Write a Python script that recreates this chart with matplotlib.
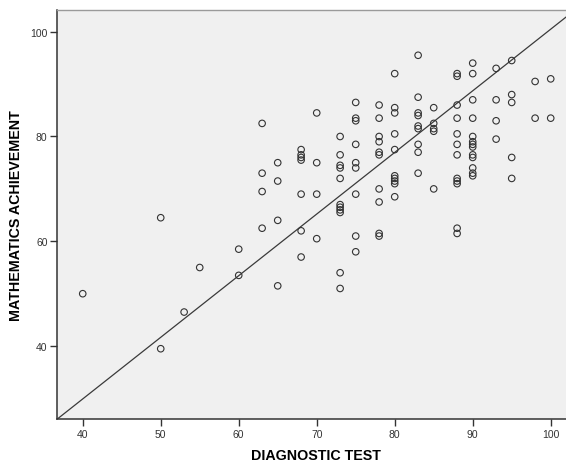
"""
Scatter of mathematics achievement against diagnostic test score,
with the fitted line drawn across the plot area.
"""
import matplotlib
matplotlib.use("Agg")
import matplotlib.pyplot as plt
import numpy as np

# scores (diagnostic test -> achievement)
COLUMNS = {
    40: [50],
    50: [64.5, 39.5],
    53: [46.5],
    55: [55],
    60: [58.5, 53.5],
    63: [82.5, 73, 69.5, 62.5],
    65: [75, 71.5, 64, 51.5],
    68: [77.5, 76.5, 76, 75.5, 69, 62, 57],
    70: [84.5, 75, 69, 60.5],
    73: [80, 76.5, 74.5, 74, 72, 67, 66.5, 66, 65.5, 54, 51],
    75: [86.5, 83.5, 83, 78.5, 75, 74, 69, 61, 58],
    78: [86, 83.5, 80, 79, 77, 76.5, 70, 67.5, 61.5, 61],
    80: [92, 85.5, 84.5, 80.5, 77.5, 72.5, 72, 71.5, 71, 68.5],
    83: [95.5, 87.5, 84.5, 84, 82, 81.5, 78.5, 77, 73],
    85: [85.5, 82.5, 81.5, 81, 70],
    88: [92, 91.5, 86, 83.5, 80.5, 78.5, 76.5, 72, 71.5, 71, 62.5, 61.5],
    90: [94, 92, 87, 83.5, 80, 79, 78.5, 78, 76.5, 76, 74, 73, 72.5],
    93: [93, 87, 83, 79.5],
    95: [94.5, 88, 86.5, 76, 72],
    98: [90.5, 83.5],
    100: [91, 83.5],
}
diag_test = [x for x, ys in COLUMNS.items() for _ in ys]
math_ach = [y for ys in COLUMNS.values() for y in ys]

# fit line
FIT_INTERCEPT = -17.12
FIT_SLOPE = 1.176

X_TICKS = [40, 50, 60, 70, 80, 90, 100]
Y_TICKS = [40, 60, 80, 100]
XLIM = (36.74, 101.96)
YLIM = (26.09, 104.14)

fig = plt.figure(figsize=(5.66, 4.64), dpi=100)
ax = fig.add_axes([57.3 / 566, 1 - 420 / 464, 1 - 57.3 / 566, 409 / 464])
ax.set_facecolor("#f0f0f0")

ax.scatter(diag_test, math_ach, s=22, facecolors="none", edgecolors="#333333",
           linewidths=0.8, zorder=3)

xs = np.array(XLIM)
ax.plot(xs, FIT_INTERCEPT + FIT_SLOPE * xs, color="#3a3a3a", lw=0.9, zorder=2)

ax.set_xlim(*XLIM)
ax.set_ylim(*YLIM)
ax.set_xticks(X_TICKS)
ax.set_yticks(Y_TICKS)
ax.tick_params(direction="out", length=5, width=1, color="#333333",
               labelsize=7.5, labelcolor="#333333", pad=2)

for side in ("left", "bottom"):
    ax.spines[side].set_color("#333333")
    ax.spines[side].set_linewidth(1.1)
ax.spines["top"].set_color("#9a9a9a")
ax.spines["top"].set_linewidth(1.0)
ax.spines["right"].set_visible(False)

ax.set_xlabel("DIAGNOSTIC TEST", fontsize=10.3, fontweight="bold",
              family="Liberation Sans")
ax.set_ylabel("MATHEMATICS ACHIEVEMENT", fontsize=10.3, fontweight="bold",
              family="Liberation Sans")
ax.xaxis.set_label_coords(0.509, -0.071)
ax.yaxis.set_label_coords(-0.067, 0.5)

for lbl in ax.get_xticklabels() + ax.get_yticklabels():
    lbl.set_family("Liberation Sans")

fig.savefig("out.png", dpi=100)
plt.close(fig)
